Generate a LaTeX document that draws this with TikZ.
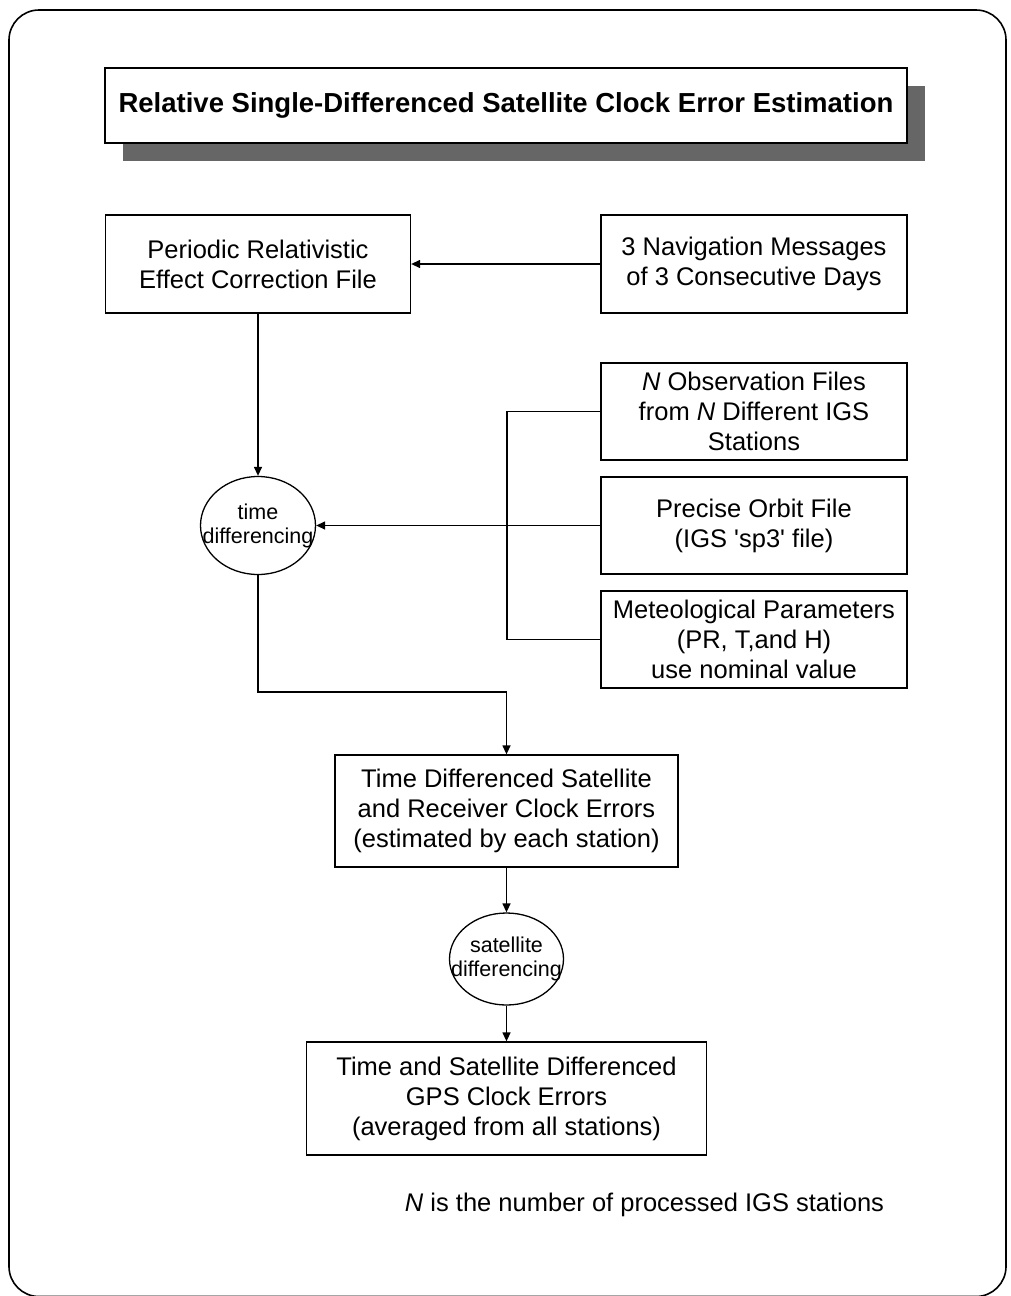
\documentclass[tikz,border=0pt]{standalone}
\usepackage{fontspec}
\setmainfont{Liberation Sans}
\usetikzlibrary{shapes.geometric,arrows.meta}
\begin{document}
\begin{tikzpicture}[x=1pt,y=-1pt,
  line width=1.3pt,
  arr/.style={-{Triangle[length=9pt,width=8pt]}},
  box/.style={draw,rectangle,inner sep=0pt,align=center,font=\fontsize{25.5}{30}\selectfont},
  oval/.style={draw,ellipse,inner xsep=-17pt,inner ysep=0pt,align=center,font=\fontsize{21.5}{24}\selectfont}]
\useasboundingbox (0,0) rectangle (1010,1296);
% outer frame
\draw[line width=1.6pt,rounded corners=30pt] (9,10) rectangle (1006,1296.5);
% title with shadow
\fill[black!60] (123,86) rectangle (925,161);
\node[box,fill=white,minimum width=802pt,minimum height=75pt,font=\fontsize{27.5}{30}\selectfont\bfseries] (title) at (506,105.5) {Relative Single-Differenced Satellite Clock Error Estimation};
% boxes
\node[box,minimum width=305pt,minimum height=98pt] (per) at (258,264) {Periodic Relativistic\\Effect Correction File};
\node[box,minimum width=306pt,minimum height=98pt] (nav) at (754,264) {3 Navigation Messages\\of 3 Consecutive Days};
\node[box,minimum width=306pt,minimum height=97pt] (obs) at (754,411.5) {\textit{N} Observation Files\\from \textit{N} Different IGS\\Stations};
\node[box,minimum width=306pt,minimum height=97pt] (orb) at (754,525.5) {Precise Orbit File\\(IGS \textquotesingle sp3\textquotesingle\ file)};
\node[box,minimum width=306pt,minimum height=97pt] (met) at (754,639.5) {Meteological Parameters\\(PR, T,and H)\\use nominal value};
\node[oval,minimum width=115pt,minimum height=98pt] (tde) at (258,525.5) {time\\differencing};
\node[box,minimum width=343pt,minimum height=112pt] (tdbox) at (506.5,811) {Time Differenced Satellite\\and Receiver Clock Errors\\(estimated by each station)};
\node[oval,minimum width=114pt,minimum height=92pt] (sde) at (506.5,959) {satellite\\differencing};
\node[box,minimum width=400pt,minimum height=113pt] (final) at (506.5,1098.5) {Time and Satellite Differenced\\GPS Clock Errors\\(averaged from all stations)};
\node[font=\fontsize{25.5}{30}\selectfont,inner sep=0pt] (note) at (644.5,1205) {\textit{N} is the number of processed IGS stations};
% connectors
\coordinate (j1) at (507,411.5);
\coordinate (j2) at (507,639.5);
\coordinate (b1) at (258,692);
\draw[arr] (nav.west) -- (per.east);
\draw[arr] (per.south) -- (tde.north);
\draw (obs.west) -- (j1) -- (j2) -- (met.west);
\draw[arr] (orb.west) -- (tde.east);
\draw[arr] (tde.south) -- (b1) -| (tdbox.north);
\draw[arr] (tdbox.south) -- (sde.north);
\draw[arr] (sde.south) -- (final.north);
\end{tikzpicture}
\end{document}
